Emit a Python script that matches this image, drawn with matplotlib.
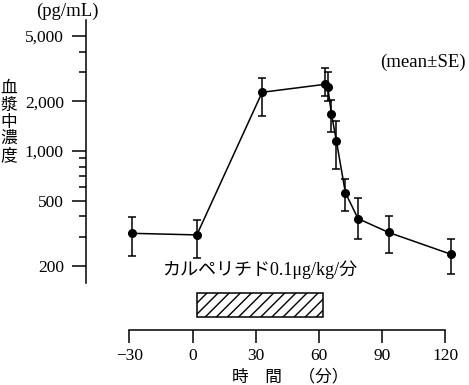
import matplotlib
matplotlib.use("Agg")
import matplotlib.pyplot as plt
from matplotlib.patches import Rectangle
from matplotlib.ticker import FixedLocator, NullFormatter

# ---- data ----
time_min = [-29, 2, 33, 62.8, 64.1, 65.9, 68.2, 72.5, 78.5, 93, 122.5]
conc = [316, 309, 2272, 2540, 2457, 1677, 1157, 558, 388, 320, 236]
err_upper = [399, 381, 2764, 3178, 3030, 2039, 1531, 673, 516, 404, 291]
err_lower = [230, 225, 1631, 2158, 2011, 1295, 777, 432, 292, 241, 179]
infusion_start = 2
infusion_end = 62

xticks = [-30, 0, 30, 60, 90, 120]
xticklabels = ["\u221230", "0", "30", "60", "90", "120"]
yticks_major = [200, 500, 1000, 2000, 5000]
yticklabels = ["200", "500", "1,000", "2,000", "5,000"]
yticks_minor = [300, 400, 600, 700, 800, 900, 3000, 4000]

LAT = ["Liberation Serif", "Noto Sans CJK JP"]
JP = ["Noto Sans CJK JP", "DejaVu Sans"]

W, H = 469, 385
fig = plt.figure(figsize=(W / 100, H / 100), dpi=100)
ax = fig.add_axes([86 / W, 1 - 330 / H, 374 / W, 310 / H])

yerr = [[c - l for c, l in zip(conc, err_lower)],
        [u - c for c, u in zip(conc, err_upper)]]
ax.errorbar(time_min, conc, yerr=yerr, color="black", lw=1.1,
            marker="o", ms=5.5, elinewidth=1.1, capsize=3, capthick=1.1,
            ecolor="black")

ax.set_yscale("log")
ax.set_xlim(-50.6, 126.9)
ax.set_ylim(81.7, 6246)

for s in ["top", "right"]:
    ax.spines[s].set_visible(False)
ax.spines["left"].set_bounds(157.7, 6246)
ax.spines["bottom"].set_bounds(-30, 120)
for s in ["left", "bottom"]:
    ax.spines[s].set_linewidth(1.1)

ax.yaxis.set_major_locator(FixedLocator(yticks_major))
ax.yaxis.set_minor_locator(FixedLocator(yticks_minor))
ax.yaxis.set_minor_formatter(NullFormatter())
ax.set_yticklabels(yticklabels, family=LAT, fontsize=12.5)
ax.set_xticks(xticks)
ax.set_xticklabels(xticklabels, family=LAT, fontsize=12.5)
ax.tick_params(axis="y", which="major", direction="out", length=10, width=1.1, pad=6)
ax.tick_params(axis="y", which="minor", direction="out", length=5, width=1.1)
ax.tick_params(axis="x", which="major", direction="out", length=9, width=1.1, pad=4)

# infusion bar
trans = ax.get_xaxis_transform()
plt.rcParams["hatch.linewidth"] = 1.0
bar = Rectangle((infusion_start, 0.0429), infusion_end - infusion_start, 0.0774,
                transform=trans, facecolor="white", edgecolor="black",
                hatch="///", lw=1.1, clip_on=False)
ax.add_patch(bar)

fig.text(67 / W, 1 - 11 / H, "(pg/mL)", family=LAT, fontsize=13.5,
         ha="center", va="center")
fig.text(423 / W, 1 - 62 / H, "(mean\u00b1SE)", family=LAT, fontsize=13.5,
         ha="center", va="center")
fig.text(260 / W, 1 - 270 / H, "カルペリチド0.1\u03bcg/kg/分", family=LAT,
         fontsize=13, ha="center", va="center")
fig.text(9 / W, 1 - 122 / H, "血\n漿\n中\n濃\n度", family=JP, fontsize=12,
         ha="center", va="center", linespacing=0.98)
fig.text(290 / W, 1 - 377 / H, "時\u3000間\u3000（分）", family=JP, fontsize=12,
         ha="center", va="center")

fig.savefig("out.png", dpi=100)
